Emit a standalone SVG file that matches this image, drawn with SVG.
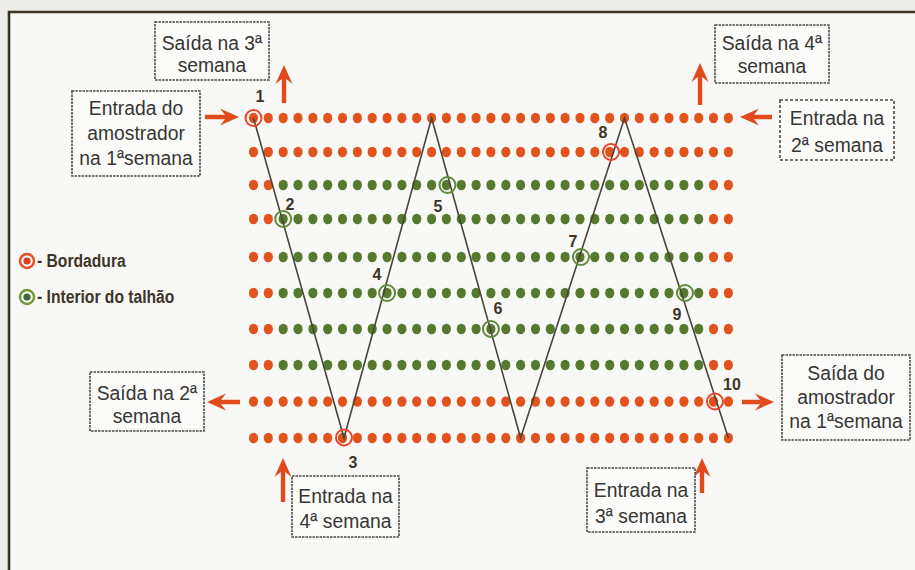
<svg xmlns="http://www.w3.org/2000/svg" xmlns:xlink="http://www.w3.org/1999/xlink" width="915" height="570" viewBox="0 0 915 570">
<style>
.o{fill:#e2521c}
.g{fill:#557a2e}
.box{fill:#fbfbf9;stroke:#4a4a48;stroke-width:1.6;stroke-dasharray:2.5,1}
.box2{fill:#fbfbf9;stroke:#4a4a48;stroke-width:1.6;stroke-dasharray:3,2}
.t{font-family:"Liberation Sans",Arial,sans-serif;font-size:21px;fill:#363634;text-anchor:middle}
.n{font-family:"Liberation Sans",Arial,sans-serif;font-size:16px;font-weight:bold;fill:#3d3528;text-anchor:middle}
.lg{font-family:"Liberation Sans",Arial,sans-serif;font-size:18px;font-weight:bold;fill:#3d3528}
.arr{fill:#e04a1c}
.rc{fill:none;stroke:#e8442a;stroke-width:2}
.gc{fill:none;stroke:#5c8c3c;stroke-width:2}
.path{fill:none;stroke:#4a4438;stroke-width:1.6;stroke-linejoin:miter}
</style>
<defs>
<g id="rowO">
<ellipse class="o" cx="253.5" cy="0" rx="4.6" ry="5.2"/><ellipse class="o" cx="268.3" cy="0" rx="4.6" ry="5.2"/><ellipse class="o" cx="283.2" cy="0" rx="4.6" ry="5.2"/><ellipse class="o" cx="298" cy="0" rx="4.6" ry="5.2"/><ellipse class="o" cx="312.9" cy="0" rx="4.6" ry="5.2"/><ellipse class="o" cx="327.7" cy="0" rx="4.6" ry="5.2"/><ellipse class="o" cx="342.5" cy="0" rx="4.6" ry="5.2"/><ellipse class="o" cx="357.4" cy="0" rx="4.6" ry="5.2"/><ellipse class="o" cx="372.2" cy="0" rx="4.6" ry="5.2"/><ellipse class="o" cx="387.1" cy="0" rx="4.6" ry="5.2"/><ellipse class="o" cx="401.9" cy="0" rx="4.6" ry="5.2"/><ellipse class="o" cx="416.7" cy="0" rx="4.6" ry="5.2"/><ellipse class="o" cx="431.6" cy="0" rx="4.6" ry="5.2"/><ellipse class="o" cx="446.4" cy="0" rx="4.6" ry="5.2"/><ellipse class="o" cx="461.3" cy="0" rx="4.6" ry="5.2"/><ellipse class="o" cx="476.1" cy="0" rx="4.6" ry="5.2"/><ellipse class="o" cx="490.9" cy="0" rx="4.6" ry="5.2"/><ellipse class="o" cx="505.8" cy="0" rx="4.6" ry="5.2"/><ellipse class="o" cx="520.6" cy="0" rx="4.6" ry="5.2"/><ellipse class="o" cx="535.5" cy="0" rx="4.6" ry="5.2"/><ellipse class="o" cx="550.3" cy="0" rx="4.6" ry="5.2"/><ellipse class="o" cx="565.1" cy="0" rx="4.6" ry="5.2"/><ellipse class="o" cx="580" cy="0" rx="4.6" ry="5.2"/><ellipse class="o" cx="594.8" cy="0" rx="4.6" ry="5.2"/><ellipse class="o" cx="609.7" cy="0" rx="4.6" ry="5.2"/><ellipse class="o" cx="624.5" cy="0" rx="4.6" ry="5.2"/><ellipse class="o" cx="639.3" cy="0" rx="4.6" ry="5.2"/><ellipse class="o" cx="654.2" cy="0" rx="4.6" ry="5.2"/><ellipse class="o" cx="669" cy="0" rx="4.6" ry="5.2"/><ellipse class="o" cx="683.9" cy="0" rx="4.6" ry="5.2"/><ellipse class="o" cx="698.7" cy="0" rx="4.6" ry="5.2"/><ellipse class="o" cx="713.5" cy="0" rx="4.6" ry="5.2"/><ellipse class="o" cx="728.4" cy="0" rx="4.6" ry="5.2"/>
</g>
<g id="rowM">
<ellipse class="o" cx="253.5" cy="0" rx="4.6" ry="5.2"/><ellipse class="o" cx="268.3" cy="0" rx="4.6" ry="5.2"/><ellipse class="g" cx="283.2" cy="0" rx="4.6" ry="5.2"/><ellipse class="g" cx="298" cy="0" rx="4.6" ry="5.2"/><ellipse class="g" cx="312.9" cy="0" rx="4.6" ry="5.2"/><ellipse class="g" cx="327.7" cy="0" rx="4.6" ry="5.2"/><ellipse class="g" cx="342.5" cy="0" rx="4.6" ry="5.2"/><ellipse class="g" cx="357.4" cy="0" rx="4.6" ry="5.2"/><ellipse class="g" cx="372.2" cy="0" rx="4.6" ry="5.2"/><ellipse class="g" cx="387.1" cy="0" rx="4.6" ry="5.2"/><ellipse class="g" cx="401.9" cy="0" rx="4.6" ry="5.2"/><ellipse class="g" cx="416.7" cy="0" rx="4.6" ry="5.2"/><ellipse class="g" cx="431.6" cy="0" rx="4.6" ry="5.2"/><ellipse class="g" cx="446.4" cy="0" rx="4.6" ry="5.2"/><ellipse class="g" cx="461.3" cy="0" rx="4.6" ry="5.2"/><ellipse class="g" cx="476.1" cy="0" rx="4.6" ry="5.2"/><ellipse class="g" cx="490.9" cy="0" rx="4.6" ry="5.2"/><ellipse class="g" cx="505.8" cy="0" rx="4.6" ry="5.2"/><ellipse class="g" cx="520.6" cy="0" rx="4.6" ry="5.2"/><ellipse class="g" cx="535.5" cy="0" rx="4.6" ry="5.2"/><ellipse class="g" cx="550.3" cy="0" rx="4.6" ry="5.2"/><ellipse class="g" cx="565.1" cy="0" rx="4.6" ry="5.2"/><ellipse class="g" cx="580" cy="0" rx="4.6" ry="5.2"/><ellipse class="g" cx="594.8" cy="0" rx="4.6" ry="5.2"/><ellipse class="g" cx="609.7" cy="0" rx="4.6" ry="5.2"/><ellipse class="g" cx="624.5" cy="0" rx="4.6" ry="5.2"/><ellipse class="g" cx="639.3" cy="0" rx="4.6" ry="5.2"/><ellipse class="g" cx="654.2" cy="0" rx="4.6" ry="5.2"/><ellipse class="g" cx="669" cy="0" rx="4.6" ry="5.2"/><ellipse class="g" cx="683.9" cy="0" rx="4.6" ry="5.2"/><ellipse class="g" cx="698.7" cy="0" rx="4.6" ry="5.2"/><ellipse class="o" cx="713.5" cy="0" rx="4.6" ry="5.2"/><ellipse class="o" cx="728.4" cy="0" rx="4.6" ry="5.2"/>
</g>
</defs>

<rect x="0" y="0" width="915" height="570" fill="#ecece9"/>
<rect x="9" y="12" width="906" height="558" fill="#f8f8f6"/>
<line x1="8" y1="12" x2="915" y2="12" stroke="#3b3322" stroke-width="2.6"/>
<line x1="9" y1="11" x2="9" y2="570" stroke="#3b3322" stroke-width="2.6"/>

<g id="field">
<use xlink:href="#rowO" href="#rowO" y="118"/>
<use xlink:href="#rowO" href="#rowO" y="152"/>
<use xlink:href="#rowM" href="#rowM" y="185"/>
<use xlink:href="#rowM" href="#rowM" y="219"/>
<use xlink:href="#rowM" href="#rowM" y="257"/>
<use xlink:href="#rowM" href="#rowM" y="293"/>
<use xlink:href="#rowM" href="#rowM" y="329"/>
<use xlink:href="#rowM" href="#rowM" y="365"/>
<use xlink:href="#rowO" href="#rowO" y="401.5"/>
<use xlink:href="#rowO" href="#rowO" y="438"/>
</g>

<g id="connectors">
<polyline class="path" points="253.5,118 344,438 431.6,118 520.6,438 624.5,118 728.4,438"/>
<path class="arr" transform="translate(239,117)" d="M0,0 L-19,-8.5 L-14,-2.2 L-34,-2.2 L-34,2.2 L-14,2.2 L-19,8.5 Z"/>
<path class="arr" transform="translate(284,65) rotate(-90)" d="M0,0 L-19,-8.5 L-14,-2.2 L-38,-2.2 L-38,2.2 L-14,2.2 L-19,8.5 Z"/>
<path class="arr" transform="translate(700,63) rotate(-90)" d="M0,0 L-19,-8.5 L-14,-2.2 L-42,-2.2 L-42,2.2 L-14,2.2 L-19,8.5 Z"/>
<path class="arr" transform="translate(740,117) rotate(180)" d="M0,0 L-19,-8.5 L-14,-2.2 L-32,-2.2 L-32,2.2 L-14,2.2 L-19,8.5 Z"/>
<path class="arr" transform="translate(207,402) rotate(180)" d="M0,0 L-19,-8.5 L-14,-2.2 L-33,-2.2 L-33,2.2 L-14,2.2 L-19,8.5 Z"/>
<path class="arr" transform="translate(283,458) rotate(-90)" d="M0,0 L-19,-8.5 L-14,-2.2 L-44,-2.2 L-44,2.2 L-14,2.2 L-19,8.5 Z"/>
<path class="arr" transform="translate(702,458) rotate(-90)" d="M0,0 L-19,-8.5 L-14,-2.2 L-35,-2.2 L-35,2.2 L-14,2.2 L-19,8.5 Z"/>
<path class="arr" transform="translate(774,402)" d="M0,0 L-19,-8.5 L-14,-2.2 L-32,-2.2 L-32,2.2 L-14,2.2 L-19,8.5 Z"/>
</g>

<g id="p1"><circle class="rc" cx="253.5" cy="118" r="8"/><text class="n" x="260" y="102">1</text></g>
<g id="p2"><circle class="gc" cx="283.2" cy="219" r="8"/><text class="n" x="290" y="210">2</text></g>
<g id="p3"><circle class="rc" cx="344" cy="437.5" r="8"/><text class="n" x="353" y="468">3</text></g>
<g id="p4"><circle class="gc" cx="387.1" cy="293" r="8"/><text class="n" x="377" y="280">4</text></g>
<g id="p5"><circle class="gc" cx="447.5" cy="185" r="8"/><text class="n" x="438" y="212">5</text></g>
<g id="p6"><circle class="gc" cx="490.9" cy="329" r="8"/><text class="n" x="498" y="314">6</text></g>
<g id="p7"><circle class="gc" cx="581" cy="257" r="8"/><text class="n" x="573" y="247">7</text></g>
<g id="p8"><circle class="rc" cx="611" cy="152" r="8"/><text class="n" x="603" y="138">8</text></g>
<g id="p9"><circle class="gc" cx="685" cy="293" r="8"/><text class="n" x="677" y="320">9</text></g>
<g id="p10"><circle class="rc" cx="715" cy="401.5" r="8"/><text class="n" x="732" y="390">10</text></g>

<g id="legend">
<circle cx="27" cy="261" r="7" fill="none" stroke="#e84a24" stroke-width="2.4"/>
<circle cx="27" cy="261" r="3.6" fill="#d8401c"/>
<text class="lg" transform="translate(37,267) scale(0.87,1)">- Bordadura</text>
<circle cx="27" cy="297" r="7" fill="none" stroke="#6e9a3a" stroke-width="2.4"/>
<circle cx="27" cy="297" r="3.6" fill="#3e6a30"/>
<text class="lg" transform="translate(37,303) scale(0.87,1)">- Interior do talhão</text>
</g>

<g id="saida3">
<rect class="box" x="155" y="22" width="114" height="58"/>
<text class="t" transform="translate(212,0) scale(0.92,1)"><tspan x="0" y="50">Saída na 3ª</tspan><tspan x="0" y="72">semana</tspan></text>
</g>
<g id="entrada1">
<rect class="box" x="72" y="91" width="128" height="85"/>
<text class="t" transform="translate(136,0) scale(0.92,1)"><tspan x="0" y="115">Entrada do</tspan><tspan x="0" y="140">amostrador</tspan><tspan x="0" y="165">na 1ªsemana</tspan></text>
</g>
<g id="saida4">
<rect class="box" x="715" y="25" width="114" height="58"/>
<text class="t" transform="translate(772,0) scale(0.92,1)"><tspan x="0" y="50">Saída na 4ª</tspan><tspan x="0" y="73">semana</tspan></text>
</g>
<g id="entrada2">
<rect class="box2" x="780" y="100" width="114" height="60"/>
<text class="t" transform="translate(837,0) scale(0.92,1)"><tspan x="0" y="125">Entrada na</tspan><tspan x="0" y="152">2ª semana</tspan></text>
</g>
<g id="saida2">
<rect class="box" x="90" y="372" width="114" height="59"/>
<text class="t" transform="translate(147,0) scale(0.92,1)"><tspan x="0" y="400">Saída na 2ª</tspan><tspan x="0" y="423">semana</tspan></text>
</g>
<g id="entrada4">
<rect class="box" x="292" y="476" width="107" height="61"/>
<text class="t" transform="translate(345.5,0) scale(0.92,1)"><tspan x="0" y="503">Entrada na</tspan><tspan x="0" y="528">4ª semana</tspan></text>
</g>
<g id="saida1">
<rect class="box" x="782" y="355" width="128" height="85"/>
<text class="t" transform="translate(846,0) scale(0.92,1)"><tspan x="0" y="380">Saída do</tspan><tspan x="0" y="404">amostrador</tspan><tspan x="0" y="428">na 1ªsemana</tspan></text>
</g>
<g id="entrada3">
<rect class="box" x="587" y="468" width="108" height="64"/>
<text class="t" transform="translate(641,0) scale(0.92,1)"><tspan x="0" y="497">Entrada na</tspan><tspan x="0" y="523">3ª semana</tspan></text>
</g>
</svg>
